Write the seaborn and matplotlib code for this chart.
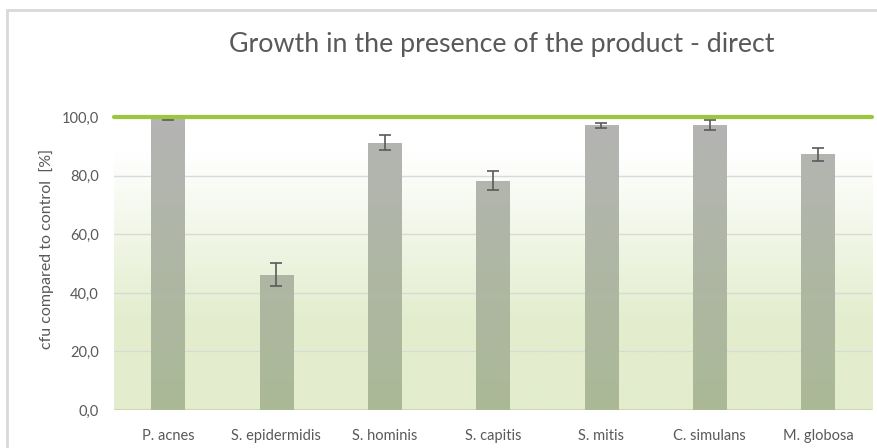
import numpy as np
import matplotlib
matplotlib.use("Agg")
import matplotlib.pyplot as plt
import seaborn as sns
from matplotlib.colors import LinearSegmentedColormap
from matplotlib.patches import Rectangle

# data
species = ["P. acnes", "S. epidermidis", "S. hominis", "S. capitis",
           "S. mitis", "C. simulans", "M. globosa"]
growth = [100.0, 46.2, 91.3, 78.3, 97.2, 97.3, 87.4]
growth_err = [0.8, 4.0, 2.6, 3.3, 1.0, 1.8, 2.2]
yticks = [0, 20, 40, 60, 80, 100]

sns.set_theme(style="white")
plt.rcParams["font.family"] = ["Lato", "DejaVu Sans"]
text_col = "#595959"

fig = plt.figure(figsize=(8.78, 4.48), dpi=100)
ax = fig.add_axes([0.1298, 0.0848, 0.8634, 0.6535])

sns.barplot(x=species, y=growth, errorbar=None, width=0.31,
            color="#b0b5a5", ax=ax, zorder=3)
ax.set_ylim(0, 100)
ax.set_xlim(-0.5, len(species) - 0.5)

# plot area background: white at top fading to light green
bg = LinearSegmentedColormap.from_list(
    "bg", [(0, "#e3edcd"), (0.3, "#e3edcd"), (0.88, "#ffffff"), (1, "#ffffff")])
grad = np.linspace(0, 1, 256).reshape(-1, 1)
ax.imshow(grad, cmap=bg, aspect="auto", origin="lower",
          extent=[-0.5, len(species) - 0.5, 0, 100], zorder=0)

# bar fill: gray at top to olive green at bottom
barmap = LinearSegmentedColormap.from_list("bar", ["#aab996", "#b4b4b4"])
for p in ax.patches:
    p.set_facecolor("none")
    p.set_edgecolor("none")
    im = ax.imshow(grad, cmap=barmap, aspect="auto", origin="lower",
                   extent=[-0.5, len(species) - 0.5, 0, 100], zorder=3)
    rect = Rectangle((p.get_x(), 0), p.get_width(), p.get_height(),
                     transform=ax.transData)
    im.set_clip_path(rect)

# error bars
xs = [p.get_x() + p.get_width() / 2 for p in ax.patches]
ax.errorbar(xs, growth, yerr=growth_err, fmt="none", ecolor="#5a5a5a",
            elinewidth=1.2, capsize=4, capthick=1.2, zorder=4)

ax.set_yticks(yticks)
ax.set_yticklabels([f"{v:.1f}".replace(".", ",") for v in yticks])
for y in yticks[1:-1]:
    ax.axhline(y, color="#d9d9d9", lw=1, zorder=1)
ax.axhline(0, color="#cdd7b5", lw=1.5, zorder=2)
ax.axhline(100, color="#9cc63b", lw=3, zorder=5, clip_on=False)

for s in ax.spines.values():
    s.set_visible(False)
ax.tick_params(axis="both", length=0, colors=text_col)
ax.tick_params(axis="x", pad=14, labelsize=10.5)
ax.tick_params(axis="y", pad=11, labelsize=10.5)
ax.set_ylabel("cfu compared to control  [%]", color=text_col, fontsize=11.5)
ax.yaxis.set_label_coords(-0.079, 0.55)

fig.text(0.572, 0.9, "Growth in the presence of the product - direct",
         ha="center", va="center", color=text_col, fontsize=19.3)

# chart frame
fig.patches.append(Rectangle((7 / 878, -0.1), 1.2, (448 - 10) / 448 + 0.1,
                             transform=fig.transFigure, fill=False,
                             edgecolor="#d9d9d9", lw=2))

fig.savefig("out.png", dpi=100)
